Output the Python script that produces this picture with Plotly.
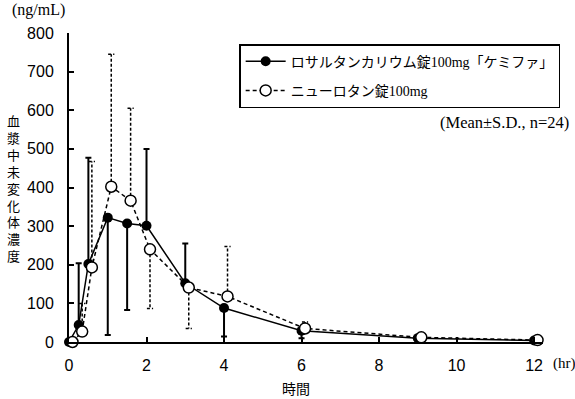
import plotly.graph_objects as go

# ---- data ----
time_hr = [0, 0.25, 0.5, 1, 1.5, 2, 3, 4, 6, 9, 12]
kemifa_mean = [0, 44, 202, 322, 307, 301, 152, 88, 29, 10, 4]
kemifa_sd = [0, 160, 275, 304, 224, 199, 103, 74, 19, 0, 0]
kemifa_dir = [1, 1, 1, -1, -1, 1, 1, -1, -1, 1, 1]   # +1 upper bar, -1 lower bar

nyu_mean = [0, 27, 193, 402, 366, 240, 141, 118, 35, 12, 5]
nyu_sd = [0, 73, 274, 343, 239, 153, 106, 129, 17, 0, 0]
nyu_dir = [1, 1, 1, 1, 1, -1, -1, 1, 1, 1, 1]

name_kemifa = "ロサルタンカリウム錠100mg「ケミファ」"
name_nyu = "ニューロタン錠100mg"
x_ticks = [0, 2, 4, 6, 8, 10, 12]
y_ticks = [0, 100, 200, 300, 400, 500, 600, 700, 800]

X_SHIFT = 0.09   # horizontal offset of second series
CAP = 0.08       # half-width of error-bar caps (hr)

nyu_x = [t + X_SHIFT for t in time_hr]

SERIF = "Liberation Serif, Noto Sans CJK JP"
SANS = "Liberation Sans, Arial, Noto Sans CJK JP"

fig = go.Figure()

k_plus = [s if d > 0 else 0 for s, d in zip(kemifa_sd, kemifa_dir)]
k_minus = [s if d < 0 else 0 for s, d in zip(kemifa_sd, kemifa_dir)]

# dashed error bars built as line segments
ex, ey = [], []
for x, m, s, d in zip(nyu_x, nyu_mean, nyu_sd, nyu_dir):
    if s <= 0:
        continue
    end = m + d * s
    ex += [x, x, None, x - CAP, x + CAP, None]
    ey += [m, end, None, end, end, None]

fig.add_trace(go.Scatter(
    x=ex, y=ey, mode="lines", showlegend=False, hoverinfo="skip",
    line=dict(color="black", width=1.5, dash="3px,2px"), cliponaxis=False,
))

fig.add_trace(go.Scatter(
    x=time_hr, y=kemifa_mean, mode="lines+markers", name=name_kemifa,
    legendgroup="a",
    line=dict(color="black", width=1.5),
    marker=dict(symbol="circle", size=10, color="black"),
    error_y=dict(type="data", symmetric=False, array=k_plus, arrayminus=k_minus,
                 color="black", thickness=2, width=3),
    cliponaxis=False,
))

fig.add_trace(go.Scatter(
    x=nyu_x, y=nyu_mean, mode="lines+markers", name=name_nyu,
    legendgroup="b",
    line=dict(color="black", width=1.5, dash="4px,3px"),
    marker=dict(symbol="circle", size=11, color="white",
                line=dict(color="black", width=1.5)),
    cliponaxis=False,
))

fig.update_layout(
    width=575, height=399,
    margin=dict(l=69, r=32, t=33, b=57, autoexpand=False),
    paper_bgcolor="white", plot_bgcolor="white",
    font=dict(family=SANS, color="black", size=16),
    showlegend=True,
    legend=dict(
        x=0.359, y=0.964, xanchor="left", yanchor="top",
        bgcolor="white", bordercolor="black", borderwidth=1.5,
        font=dict(family=SERIF, size=14, color="black"),
        tracegroupgap=8, itemwidth=40,
    ),
    xaxis=dict(
        range=[0, 12.23], tickvals=x_ticks, ticktext=[str(v) for v in x_ticks],
        showline=True, linecolor="black", linewidth=2,
        ticks="inside", ticklen=5, tickwidth=1.5, tickcolor="black",
        showgrid=False, zeroline=False, ticklabelstandoff=8,
        tickfont=dict(size=16, family=SANS),
    ),
    yaxis=dict(
        range=[0, 800], tickvals=y_ticks, ticktext=[str(v) for v in y_ticks],
        showline=True, linecolor="black", linewidth=2,
        ticks="inside", ticklen=5, tickwidth=1.5, tickcolor="black",
        showgrid=False, zeroline=False, ticklabelstandoff=10,
        tickfont=dict(size=16, family=SANS),
    ),
)

ytitle = "<br>".join(list("血漿中未変化体濃度"))
fig.add_annotation(text=ytitle, xref="paper", yref="paper",
                   x=-0.117, y=0.50, xanchor="center", yanchor="middle",
                   showarrow=False, font=dict(size=13, family="Noto Sans CJK JP"))
fig.add_annotation(text="(ng/mL)", xref="paper", yref="paper",
                   x=-0.124, y=1.076, xanchor="left", yanchor="middle",
                   showarrow=False, font=dict(size=16, family=SERIF))
fig.add_annotation(text="(hr)", xref="paper", yref="paper",
                   x=1.017, y=-0.071, xanchor="left", yanchor="middle",
                   showarrow=False, font=dict(size=15, family=SERIF))
fig.add_annotation(text="時間", xref="paper", yref="paper",
                   x=0.479, y=-0.15, xanchor="center", yanchor="middle",
                   showarrow=False, font=dict(size=14, family="Noto Sans CJK JP"))
fig.add_annotation(text="(Mean±S.D., n=24)", xref="paper", yref="paper",
                   x=1.059, y=0.709, xanchor="right", yanchor="middle",
                   showarrow=False, font=dict(size=16.5, family=SERIF))

fig.write_html("out.html", config={"displayModeBar": False},
               post_script="document.body.style.margin='0';")
